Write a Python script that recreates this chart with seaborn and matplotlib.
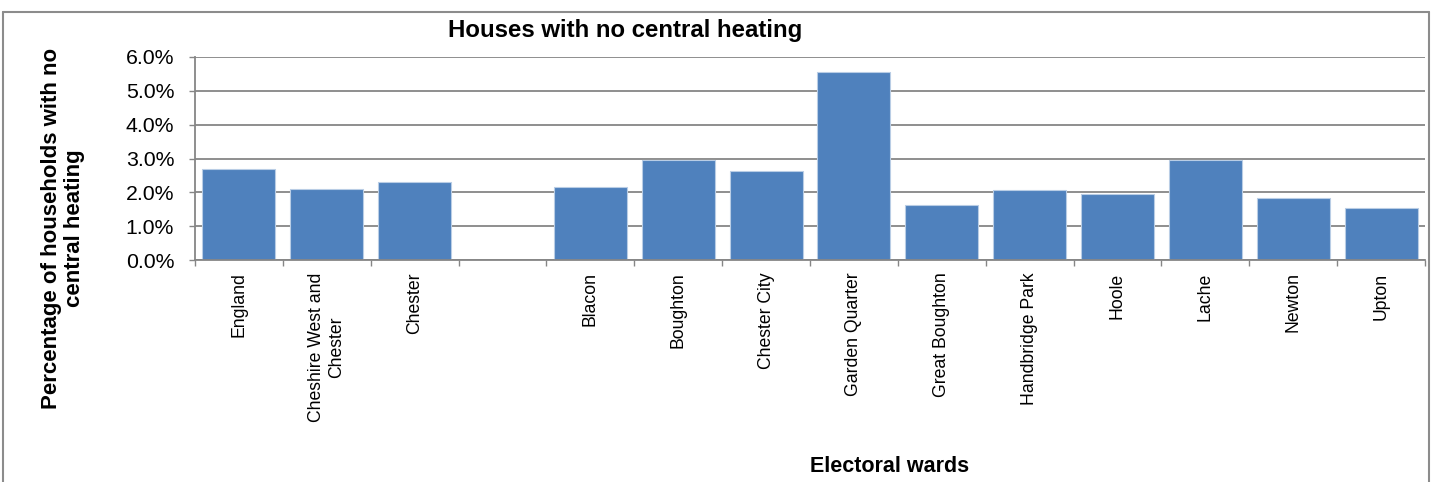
import matplotlib
matplotlib.use("Agg")
import matplotlib.pyplot as plt
from matplotlib.lines import Line2D
from matplotlib.ticker import FixedLocator, PercentFormatter
import seaborn as sns
import pandas as pd

# ---- data ----
categories = ["England", "Cheshire West and\nChester", "Chester", " ",
              "Blacon", "Boughton", "Chester City", "Garden Quarter",
              "Great Boughton", "Handbridge Park", "Hoole", "Lache",
              "Newton", "Upton"]
values = [2.68, 2.10, 2.31, None,
          2.17, 2.97, 2.64, 5.55,
          1.63, 2.06, 1.94, 2.97,
          1.83, 1.53]
y_ticks = [0, 1, 2, 3, 4, 5, 6]
title_text = "Houses with no central heating"
xlabel_text = "Electoral wards"
ylabel_text = "Percentage of households with no\ncentral heating"

df = pd.DataFrame({"ward": [c for c, v in zip(categories, values) if v is not None],
                   "pct": [v for v in values if v is not None]})

sns.set_theme(style="white")
plt.rcParams["font.family"] = ["Liberation Sans", "DejaVu Sans"]
plt.rcParams["text.color"] = "black"
plt.rcParams["xtick.labelcolor"] = "black"
plt.rcParams["ytick.labelcolor"] = "black"

W, H = 1431, 482
fig = plt.figure(figsize=(W / 100, H / 100), dpi=100)
ax = fig.add_axes([195 / W, 1 - 260 / H, 1230 / W, 203 / H])

sns.barplot(data=df, x="ward", y="pct", order=categories, ax=ax,
            color="#4F81BD", saturation=1, width=0.83,
            edgecolor="#B9CDE5", linewidth=0.8)

grid_c = "#868686"
ax.set_ylim(0, 6)
ax.set_xlim(-0.5, len(categories) - 0.5)
ax.set_yticks(y_ticks)
ax.yaxis.set_major_formatter(PercentFormatter(decimals=1))
ax.yaxis.grid(True, color=grid_c, linewidth=1.3)
ax.set_axisbelow(True)

ax.set_xticks(range(len(categories)))
ax.set_xticklabels(categories, rotation=90, ha="center", va="top",
                   multialignment="center", fontsize=12.7, color="black")
ax.xaxis.set_minor_locator(FixedLocator([i - 0.5 for i in range(len(categories) + 1)]))
ax.tick_params(axis="x", which="major", length=0, pad=9)
ax.tick_params(axis="x", which="minor", length=4, width=1, color=grid_c, direction="out", bottom=True)
ax.tick_params(axis="y", which="major", length=4, width=1, color=grid_c, direction="out",
               left=True, labelsize=15.3, pad=11, labelcolor="black")

for s in ["top", "right"]:
    ax.spines[s].set_visible(False)
for s in ["left", "bottom"]:
    ax.spines[s].set_color(grid_c)
    ax.spines[s].set_linewidth(1.3)
ax.set_xlabel("")
ax.set_ylabel("")

# titles
fig.text(625 / W, 1 - 31 / H, title_text, ha="center", va="center",
         fontsize=17.3, fontweight="bold", color="black")
fig.text(890 / W, 1 - 466 / H, xlabel_text, ha="center", va="center",
         fontsize=15.5, fontweight="bold", color="black")
fig.text(63 / W, 1 - 228 / H, ylabel_text, ha="center", va="center",
         rotation=90, fontsize=16, fontweight="bold", multialignment="center",
         linespacing=1.1, color="black")

# outer chart frame (left, top, right)
fc = "#8C8C8C"
x0, x1, yt = 3 / W, 1429 / W, 1 - 12 / H
fig.add_artist(Line2D([x0, x0], [0, yt], transform=fig.transFigure, color=fc, linewidth=1.5))
fig.add_artist(Line2D([x0, x1], [yt, yt], transform=fig.transFigure, color=fc, linewidth=1.5))
fig.add_artist(Line2D([x1, x1], [0, yt], transform=fig.transFigure, color=fc, linewidth=1.5))

fig.savefig("out.png", dpi=100, facecolor="white")
